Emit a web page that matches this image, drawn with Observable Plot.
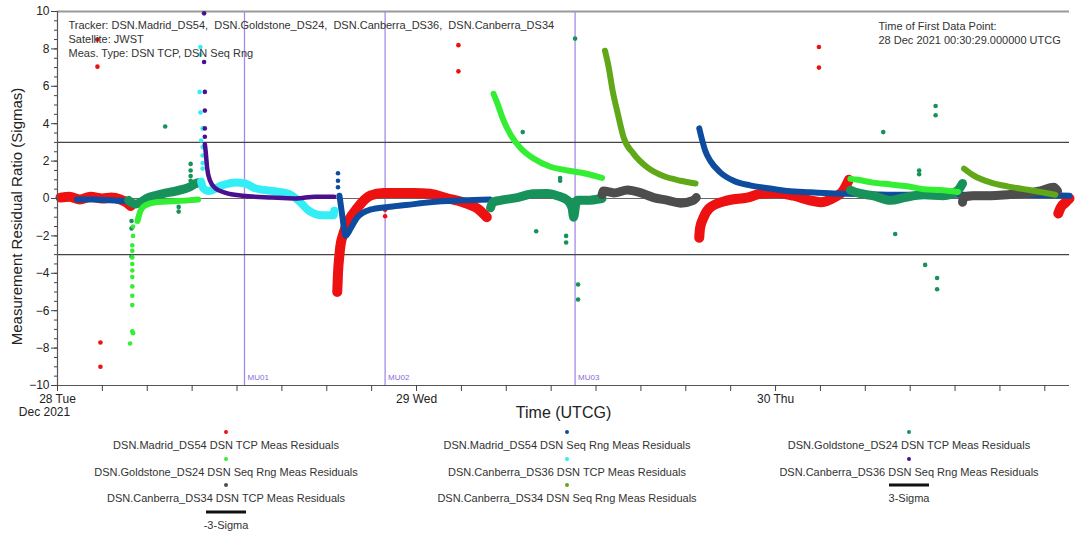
<!DOCTYPE html>
<html><head><meta charset="utf-8">
<script src="https://cdn.jsdelivr.net/npm/d3@7"></script>
<script src="https://cdn.jsdelivr.net/npm/@observablehq/plot@0.6"></script>
<style>
body{margin:0;background:#fff;font-family:"Liberation Sans",Arial,sans-serif;}
#wrap{position:relative;width:1076px;height:533px;overflow:hidden;}
#chart{position:absolute;left:0;top:0;}
svg text{white-space:pre;}
.lg{position:absolute;transform:translateX(-50%);text-align:center;font-size:11px;color:#333;white-space:nowrap;line-height:13px;}
.mk{position:absolute;transform:translate(-50%,-50%);}
</style></head><body>
<div id="wrap"><div id="chart"></div><div id="legend"></div></div>
<script>
// ---- data (hours since 28 Dec 2021 00:00 UTC, residual ratio in sigmas) ----
const seriesNames = [
  "DSN.Madrid_DS54 DSN TCP Meas Residuals",
  "DSN.Madrid_DS54 DSN Seq Rng Meas Residuals",
  "DSN.Goldstone_DS24 DSN TCP Meas Residuals",
  "DSN.Goldstone_DS24 DSN Seq Rng Meas Residuals",
  "DSN.Canberra_DS36 DSN TCP Meas Residuals",
  "DSN.Canberra_DS36 DSN Seq Rng Meas Residuals",
  "DSN.Canberra_DS34 DSN TCP Meas Residuals",
  "DSN.Canberra_DS34 DSN Seq Rng Meas Residuals"
];
const seriesColors = ["#ee1111","#0d4c9e","#17925a","#33ee33","#33eef5","#4a1090","#4d4d4d","#60a818"];

const madridTcpBands = [
  [[0.2,0.05],[0.8,0.1],[1.5,-0.05],[2.2,0.1],[3.0,0.0],[3.6,0.05],[4.2,-0.05],[4.6,-0.2],[4.9,-0.4]],
  [[18.7,-5.0],[18.75,-4.0],[18.85,-3.0],[18.9,-2.6],[19.1,-1.9],[19.45,-1.2],[20.05,-0.5],[20.9,0.15],[21.8,0.3],[22.7,0.3],[23.8,0.3],[24.9,0.25],[26.1,0.0],[27.1,-0.2],[28.1,-0.55],[28.7,-1.0]],
  [[42.9,-2.1],[42.95,-1.6],[43.2,-1.0],[43.6,-0.5],[44.8,-0.1],[46.1,0.05],[47.0,0.25],[48.1,0.3],[49.2,0.15],[50.3,-0.1],[51.0,-0.2],[51.9,0.05],[52.5,0.4],[52.9,1.0]],
  [[66.9,-0.8],[67.05,-0.5],[67.4,-0.2],[67.65,0.0]]
];
const madridTcpDots = [[2.67,8.5],[2.67,7.05],[2.87,-7.7],[2.87,-9.0],[21.9,-0.6],[21.9,-0.95],[26.8,8.2],[26.8,6.8],[50.9,8.1],[50.9,7.0]];

const madridSeqBands = [
  [[1.3,-0.05],[2.5,-0.05],[3.5,-0.1],[4.75,-0.15]],
  [[18.85,0.15],[19.05,-1.0],[19.25,-2.0],[19.6,-1.6],[20.05,-1.0],[20.9,-0.6],[22.1,-0.45],[23.3,-0.35],[24.9,-0.2],[27.1,-0.1],[28.9,-0.05]],
  [[42.9,3.75],[43.1,3.1],[43.3,2.55],[43.65,2.0],[44.3,1.4],[45.2,0.95],[46.3,0.7],[47.5,0.55],[48.8,0.4],[50.3,0.33],[51.9,0.27],[52.8,0.25],[56.0,0.2],[60.0,0.2],[64.0,0.2],[67.65,0.15]]
];
const madridSeqDots = [[18.75,1.35],[18.75,0.95],[18.75,0.6]];

const goldstoneTcpBands = [
  [[4.75,-0.1],[5.2,-0.3],[6.1,0.05],[7.0,0.25],[7.9,0.4],[8.8,0.6],[9.25,0.8],[9.45,0.85]],
  [[28.95,-0.5],[29.1,-0.2],[29.6,-0.1],[30.75,0.05],[31.8,0.25],[32.75,0.27],[33.4,0.15],[34.1,-0.1],[34.4,-0.5],[34.5,-1.0],[34.65,-0.3],[34.75,-0.1],[35.4,-0.1],[36.4,0.0]],
  [[53.0,0.45],[53.5,0.3],[54.5,0.15],[55.7,-0.1],[56.6,0.05],[57.9,0.2],[59.2,0.15],[60.2,0.45],[60.5,0.8]]
];
const goldstoneTcpDots = [[8.9,1.85],[8.9,1.5],[8.9,1.2],[8.9,0.95],[8.1,-0.45],[8.1,-0.7],[4.95,-1.2],[4.95,-1.6],[4.95,-3.1],
  [7.2,3.85],[31.1,3.55],[33.6,0.95],[33.6,1.1],[32.0,-1.75],[34.0,-2.0],[34.0,-2.35],[34.8,-4.6],[34.8,-5.4],[34.6,8.55],
  [55.2,3.55],[56.0,-1.9],[57.6,1.5],[57.6,1.3],[58.0,-3.55],[58.7,4.95],[58.7,4.45],[58.8,-4.25],[58.8,-4.85]];

const goldstoneSeqBands = [
  [[5.35,-1.2],[5.55,-0.65],[5.9,-0.35],[6.55,-0.2],[7.7,-0.15],[8.75,-0.1],[9.4,-0.05]],
  [[29.15,5.6],[29.4,5.1],[29.8,4.2],[30.3,3.4],[30.95,2.7],[31.8,2.15],[32.95,1.7],[34.1,1.5],[35.2,1.35],[36.4,1.1]],
  [[53.0,1.05],[53.5,1.0],[54.5,0.85],[55.7,0.75],[56.8,0.65],[57.9,0.5],[59.0,0.45],[60.2,0.35]]
];
const goldstoneSeqDots = [[5.05,-1.5],[5.05,-2.0],[5.0,-2.5],[5.0,-2.8],[5.0,-3.15],[5.0,-3.5],[5.0,-3.85],[5.0,-4.2],[5.0,-4.7],[5.0,-5.2],[5.0,-5.7],[5.0,-7.1],[5.05,-7.2],[4.85,-7.75]];

const canberra36TcpBands = [
  [[9.6,0.9],[9.75,0.55],[10.1,0.4],[11.0,0.7],[11.9,0.85],[12.55,0.8],[13.2,0.55],[14.4,0.4],[15.45,0.25],[16.1,-0.1],[16.8,-0.65],[17.7,-0.9],[18.45,-0.9],[18.5,-0.65]]
];
const canberra36TcpDots = [[9.55,8.1],[9.55,7.7],[9.5,5.7],[9.55,4.6],[9.7,3.75],[9.6,3.1],[9.7,2.75],[9.7,2.3],[9.7,1.9],[9.7,1.6]];

const canberra36SeqBands = [
  [[9.85,2.9],[9.9,2.55],[10.0,1.65],[10.2,0.95],[10.55,0.55],[11.25,0.3],[12.35,0.15],[14.35,0.05],[15.9,0.0],[17.25,0.1],[18.5,0.1]]
];
const canberra36SeqDots = [[9.8,9.9],[9.8,7.3],[9.85,5.7],[9.85,4.7],[9.85,3.75],[9.85,3.3]];

const canberra34TcpBands = [
  [[36.4,0.2],[36.5,0.4],[37.2,0.3],[38.1,0.45],[39.0,0.3],[39.85,0.05],[40.8,-0.1],[41.65,-0.25],[42.5,-0.1],[42.7,0.05]],
  [[60.5,-0.2],[60.55,0.05],[61.2,0.15],[62.4,0.15],[63.5,0.2],[64.6,0.27],[65.7,0.4],[66.6,0.6],[66.85,0.4]]
];
const canberra34TcpDots = [];

const canberra34SeqBands = [
  [[36.6,7.9],[36.85,7.0],[37.1,5.8],[37.45,4.55],[37.85,3.25],[38.5,2.4],[39.45,1.65],[40.5,1.2],[41.65,0.95],[42.65,0.8]],
  [[60.6,1.6],[61.2,1.25],[62.4,0.85],[63.5,0.65],[64.6,0.5],[65.7,0.35],[66.7,0.2]]
];
const canberra34SeqDots = [];

const muHours = [12.5, 21.9, 34.6];
const muLabels = ["MU01", "MU02", "MU03"];
const sigmaLevels = [3, -3];
const yTicks = [-10,-8,-6,-4,-2,0,2,4,6,8,10];
const dayHours = [0, 24, 48];
const dayLabels = ["28 Tue", "29 Wed", "30 Thu"];
const headerLeft = "Tracker: DSN.Madrid_DS54,  DSN.Goldstone_DS24,  DSN.Canberra_DS36,  DSN.Canberra_DS34\nSatellite: JWST\nMeas. Type: DSN TCP, DSN Seq Rng";
const headerRight = "Time of First Data Point:\n28 Dec 2021 00:30:29.000000 UTCG";

// ---- build tables ----
const allBands = [madridTcpBands, madridSeqBands, goldstoneTcpBands, goldstoneSeqBands, canberra36TcpBands, canberra36SeqBands, canberra34TcpBands, canberra34SeqBands];
const allDots = [madridTcpDots, madridSeqDots, goldstoneTcpDots, goldstoneSeqDots, canberra36TcpDots, canberra36SeqDots, canberra34TcpDots, canberra34SeqDots];
const bandWidths = [10, 6, 9, 6, 8, 4.5, 9, 6];

const T0 = Date.UTC(2021, 11, 28);
const toDate = h => new Date(T0 + h * 3600e3);

const marks = [
  Plot.ruleY([10], {stroke: "#9a9a9a", strokeWidth: 2}),
  Plot.ruleX(muHours.map(toDate), {stroke: "#a58be8", strokeWidth: 1.3}),
  Plot.text(muHours.map((h, i) => ({t: toDate(h), s: muLabels[i]})), {x: "t", y: -10, text: "s", dx: 3, dy: -8, textAnchor: "start", fill: "#8a6ad8", fontSize: 8}),
  Plot.ruleY(sigmaLevels, {stroke: "#444", strokeWidth: 1.2}),
  Plot.ruleY([0], {stroke: "#666", strokeWidth: 1.2})
];

allBands.forEach((bands, si) => {
  const rows = [];
  bands.forEach((seg, k) => seg.forEach(([h, v]) => rows.push({t: toDate(h), v, seg: k})));
  marks.push(Plot.line(rows, {x: "t", y: "v", z: "seg", stroke: seriesColors[si], strokeWidth: bandWidths[si], curve: "monotone-x", strokeLinecap: "round", strokeLinejoin: "round"}));
  const drows = allDots[si].map(([h, v]) => ({t: toDate(h), v}));
  marks.push(Plot.dot(drows, {x: "t", y: "v", r: 2.3, fill: seriesColors[si], stroke: "none"}));
});

const xTicks = d3.range(0, 67, 3).map(toDate);
const yMinor = d3.range(-10, 10.01, 0.5);

marks.push(
  Plot.ruleX([toDate(0)], {stroke: "#555", strokeWidth: 1.2}),
  Plot.ruleY([-10], {stroke: "#555", strokeWidth: 1.2}),
  Plot.axisY({ticks: yMinor, tickSize: 3, tickFormat: () => "", label: null, stroke: "#444"}),
  Plot.axisY({ticks: yTicks, tickSize: 6, tickPadding: 2, label: null, fontSize: 12, fill: "#222", stroke: "#444"}),
  Plot.axisX({ticks: xTicks, tickSize: 6, tickPadding: 3, label: null, fontSize: 12, fill: "#222", stroke: "#444",
    tickFormat: d => { const h = Math.round((d - T0) / 3600e3); const i = dayHours.indexOf(h); return i >= 0 ? dayLabels[i] : ""; }}),
  Plot.text(["Dec 2021"], {frameAnchor: "bottom-left", textAnchor: "middle", lineAnchor: "middle", dx: -13, dy: 27, fontSize: 12, fill: "#222"}),
  Plot.text(["Time (UTCG)"], {frameAnchor: "bottom", textAnchor: "middle", lineAnchor: "middle", dy: 27, fontSize: 16, fill: "#222"}),
  Plot.text(["Measurement Residual Ratio (Sigmas)"], {frameAnchor: "left", textAnchor: "middle", lineAnchor: "middle", rotate: -90, dx: -40, dy: 18, fontSize: 15, fill: "#222"}),
  Plot.text([headerLeft], {frameAnchor: "top-left", textAnchor: "start", lineAnchor: "top", dx: 11, dy: 8, fontSize: 11, lineHeight: 1.27, fill: "#333"}),
  Plot.text([headerRight], {frameAnchor: "top-right", textAnchor: "start", lineAnchor: "top", dx: -191, dy: 9, fontSize: 11, lineHeight: 1.27, fill: "#333"})
);

const chart = Plot.plot({
  width: 1076, height: 420,
  marginLeft: 57, marginRight: 7, marginTop: 11, marginBottom: 35,
  x: {type: "utc", domain: [toDate(0), toDate(67.65)], label: null},
  y: {domain: [-10, 10], label: null},
  style: {fontFamily: "Liberation Sans, Arial, sans-serif", fontSize: "12px", color: "#222", background: "#fff", overflow: "visible"},
  marks
});
document.getElementById("chart").appendChild(chart);

// ---- legend (HTML, below the SVG) ----
const legendItems = seriesNames.map((n, i) => ({name: n, color: seriesColors[i], kind: "dot"}))
  .concat([{name: "3-Sigma", color: "#111", kind: "line"}, {name: "-3-Sigma", color: "#111", kind: "line"}]);
const colX = [226, 567, 909];
const lg = document.getElementById("legend");
legendItems.forEach((it, i) => {
  const col = i % 3, row = Math.floor(i / 3);
  const my = 432 + row * 26.7;
  const mk = document.createElement("div");
  mk.className = "mk";
  mk.style.left = colX[col] + "px";
  mk.style.top = my + "px";
  if (it.kind === "dot") { mk.style.width = "4px"; mk.style.height = "4px"; mk.style.borderRadius = "50%"; mk.style.background = it.color; }
  else { mk.style.width = "40px"; mk.style.height = "3px"; mk.style.background = it.color; }
  lg.appendChild(mk);
  const tx = document.createElement("div");
  tx.className = "lg";
  tx.style.left = colX[col] + "px";
  tx.style.top = (my + 7) + "px";
  tx.textContent = it.name;
  lg.appendChild(tx);
});
</script>
</body></html>
